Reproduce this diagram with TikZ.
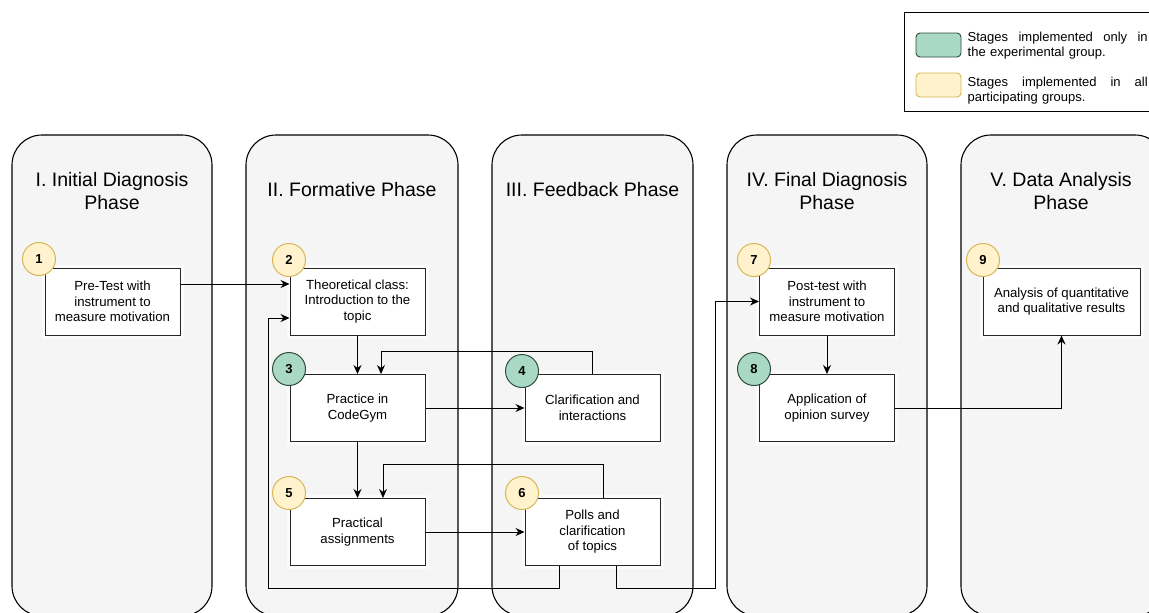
\documentclass[tikz,border=0pt]{standalone}
\usepackage{fontspec}
\setmainfont{Liberation Sans}
\usetikzlibrary{arrows.meta,calc}
\definecolor{panelfill}{HTML}{F5F5F5}
\definecolor{greenfill}{HTML}{A9D9C4}
\definecolor{greenline}{HTML}{2F4A3F}
\definecolor{yelfill}{HTML}{FFF2CC}
\definecolor{yelline}{HTML}{D6B656}
\begin{document}
\begin{tikzpicture}[x=1pt,y=-1pt,
  panel/.style={draw=black, line width=1.1pt, fill=panelfill, rounded corners=30pt},
  phasetitle/.style={font=\fontsize{19.5}{23}\selectfont, align=center},
  stage/.style={draw=black!85, line width=1pt, fill=white, minimum width=135pt, minimum height=67pt, inner sep=2pt, align=center, font=\fontsize{13.2}{15.5}\selectfont, preaction={draw=white, line width=7pt, opacity=0.6}},
  badge/.style={circle, line width=1pt, minimum size=33pt, inner sep=0pt, font=\bfseries\fontsize{13}{13}\selectfont},
  gbadge/.style={badge, draw=greenline, fill=greenfill},
  ybadge/.style={badge, draw=yelline, fill=yelfill},
  arr/.style={-{Stealth[length=9pt,width=8pt]}, line width=1pt},
  legtext/.style={anchor=west, inner sep=0pt, text width=180pt, align=left, font=\fontsize{13}{14.5}\selectfont}
]
\useasboundingbox (0,0) rectangle (1149,613);
\clip (0,0) rectangle (1149,613);

% panels
\draw[panel] (12,135) rectangle (212,616);
\draw[panel] (246,135) rectangle (458,616);
\draw[panel] (492,135) rectangle (693,616);
\draw[panel] (727,135) rectangle (927,616);
\draw[panel] (961,135) rectangle (1165,616);

\node[phasetitle] (t1) at (112,191) {I. Initial Diagnosis\\Phase};
\node[phasetitle] (t2) at (352,190) {II. Formative Phase};
\node[phasetitle] (t3) at (592.5,190) {III. Feedback Phase};
\node[phasetitle] (t4) at (827,191) {IV. Final Diagnosis\\Phase};
\node[phasetitle] (t5) at (1061,191) {V. Data Analysis\\Phase};

% legend
\draw[line width=0.9pt] (904,12) rectangle (1165,111);
\draw[rounded corners=4pt, fill=greenfill, draw=greenline, line width=0.9pt] (916,33) rectangle (961,57);
\draw[rounded corners=4pt, fill=yelfill, draw=yelline, line width=0.9pt] (916,73) rectangle (961,97);
\node[legtext] (l1) at (967.5,45.5) {Stages\hfill implemented\hfill only\hfill in\\the experimental group.};
\node[legtext] (l2) at (967.5,90.5) {Stages\hfill implemented\hfill in\hfill all\\participating groups.};

% stages
\node[stage] (b1) at (112.5,301.5) {Pre-Test with\\instrument to\\measure motivation};
\node[stage] (b2) at (357.5,301.5) {Theoretical class:\\Introduction to the\\topic};
\node[stage] (b3) at (357.5,408) {Practice in\\CodeGym};
\node[stage] (b4) at (592.5,408) {Clarification and\\interactions};
\node[stage] (b5) at (357.5,532) {Practical\\assignments};
\node[stage] (b6) at (592.5,532) {Polls and\\clarification\\of topics};
\node[stage] (b7) at (827,301.5) {Post-test with\\instrument to\\measure motivation};
\node[stage] (b8) at (827,408) {Application of\\opinion survey};
\node[stage, minimum width=157pt] (b9) at (1061.5,301.5) {Analysis of quantitative\\and qualitative results};

% connectors
\coordinate (c6a) at (268,588);
\coordinate (c6b) at (715,588);
\draw[arr] ([yshift=17.5pt]b1.east) -- ([yshift=17.5pt]b2.west);
\draw[arr] ([xshift=-33.5pt]b6.south) |- (c6a) |- ([yshift=-16.5pt]b2.west);
\draw[arr] ([xshift=23.5pt]b6.south) |- (c6b) |- (b7.west);
\draw[arr] (b2.south) -- (b3.north);
\draw[arr] (b4.north) -- ++(0,-23) -| ([xshift=23.5pt]b3.north);
\draw[arr] (b3.east) -- (b4.west);
\draw[arr] (b3.south) -- (b5.north);
\draw[arr] ([xshift=10.5pt]b6.north) -- ++(0,-34) -| ([xshift=25.5pt]b5.north);
\draw[arr] (b5.east) -- (b6.west);
\draw[arr] (b7.south) -- (b8.north);
\draw[arr] (b8.east) -| (b9.south);

% badges
\node[ybadge] (n1) at (39,259) {1};
\node[ybadge] (n2) at (289,260) {2};
\node[gbadge] (n3) at (289,369) {3};
\node[gbadge] (n4) at (522,371) {4};
\node[ybadge] (n5) at (289,493) {5};
\node[ybadge] (n6) at (522,493) {6};
\node[ybadge] (n7) at (754,260) {7};
\node[gbadge] (n8) at (754,369) {8};
\node[ybadge] (n9) at (983,260) {9};
\end{tikzpicture}
\end{document}
